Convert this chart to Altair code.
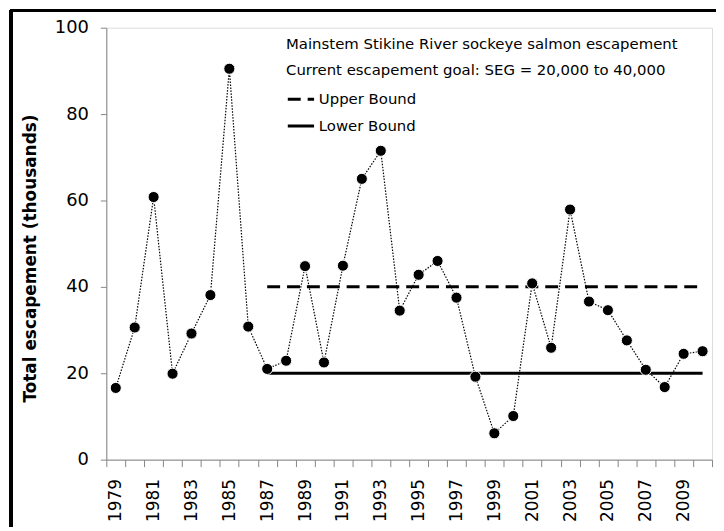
import altair as alt
import pandas as pd

years = list(range(1979, 2011))
escapement = [16.6, 30.6, 60.8, 19.9, 29.2, 38.1, 90.5, 30.8, 21.0, 22.9,
              44.8, 22.5, 44.9, 65.0, 71.5, 34.5, 42.8, 46.0, 37.5, 19.2,
              6.1, 10.1, 40.8, 25.9, 57.9, 36.6, 34.6, 27.6, 20.8, 16.8,
              24.5, 25.1]

bound_names = ["Upper Bound", "Lower Bound"]
bound_values = [40, 20]
bound_start = 1987
bound_end = 2010

title_lines = ["Mainstem Stikine River sockeye salmon escapement",
               "Current escapement goal: SEG = 20,000 to 40,000"]

FONT = "DejaVu Sans"
GRAY = "#868686"

esc_df = pd.DataFrame({"year": years, "escapement": escapement})
bounds_df = pd.DataFrame({
    "year": [bound_start, bound_end] * 2,
    "escapement": [bound_values[0]] * 2 + [bound_values[1]] * 2,
    "bound": [bound_names[0]] * 2 + [bound_names[1]] * 2,
})

x_enc = alt.X(
    "year:O",
    scale=alt.Scale(type="band", paddingInner=0, paddingOuter=0),
    axis=alt.Axis(
        title=None,
        labelAngle=270,
        labelExpr="datum.value % 2 == 1 ? datum.label : ''",
        tickBand="extent",
        tickSize=7,
        labelPadding=12,
        labelFontSize=17,
        labelFont=FONT,
        labelColor="black",
        domainColor=GRAY,
        tickColor=GRAY,
    ),
)
y_enc = alt.Y(
    "escapement:Q",
    scale=alt.Scale(domain=[0, 100]),
    axis=alt.Axis(
        values=[0, 20, 40, 60, 80, 100],
        grid=False,
        title="Total escapement (thousands)",
        titleFont=FONT,
        titleFontSize=17,
        titleFontWeight="bold",
        titleColor="black",
        titleAngle=270,
        titleBaseline="middle",
        titleAlign="center",
        titleX=-76,
        titleY=232,
        tickSize=6,
        labelPadding=12,
        labelFontSize=18,
        labelFont=FONT,
        labelColor="black",
        domainColor=GRAY,
        tickColor=GRAY,
    ),
)

bound_lines = alt.Chart(bounds_df).mark_line(color="black", strokeWidth=3, strokeCap="butt").encode(
    x=x_enc,
    y=y_enc,
    detail="bound:N",
    strokeDash=alt.StrokeDash(
        "bound:N",
        scale=alt.Scale(domain=bound_names, range=[[13, 7], [1, 0]]),
        legend=alt.Legend(
            title=title_lines,
            orient="none",
            legendX=181,
            legendY=9,
            padding=0,
            titleFont=FONT,
            titleFontSize=15,
            titleFontWeight="normal",
            titleColor="black",
            titleLineHeight=27,
            titleLimit=500,
            titlePadding=6,
            labelFont=FONT,
            labelFontSize=15,
            labelColor="black",
            labelOffset=3,
            labelLimit=300,
            symbolType="stroke",
            symbolSize=700,
            symbolStrokeWidth=3,
            symbolStrokeColor="black",
            rowPadding=4,
        ),
    ),
)

dotted = alt.Chart(esc_df).mark_line(color="black", strokeWidth=1.2, strokeDash=[1.5, 1.5]).encode(
    x=x_enc, y=y_enc
)
points = alt.Chart(esc_df).mark_circle(size=125, color="black", opacity=1, stroke="white", strokeWidth=1).encode(
    x=x_enc, y=y_enc
)

left_border = alt.Chart(esc_df).mark_rule(color="black", strokeWidth=2.5).encode(
    x=alt.value(-96), y=alt.value(-17), y2=alt.value(530)
)
top_border = alt.Chart(esc_df).mark_rule(color="black", strokeWidth=2.5).encode(
    x=alt.value(-97), x2=alt.value(620), y=alt.value(-17)
)

chart = alt.layer(bound_lines, dotted, points, left_border, top_border).properties(
    width=610,
    height=435,
    autosize=alt.AutoSizeParams(type="none"),
    padding={"left": 99, "top": 18, "right": 4, "bottom": 66},
).configure_view(stroke=GRAY, strokeWidth=1).configure(background="white")

chart.save("out.html", embed_options={"renderer": "svg", "actions": False})
